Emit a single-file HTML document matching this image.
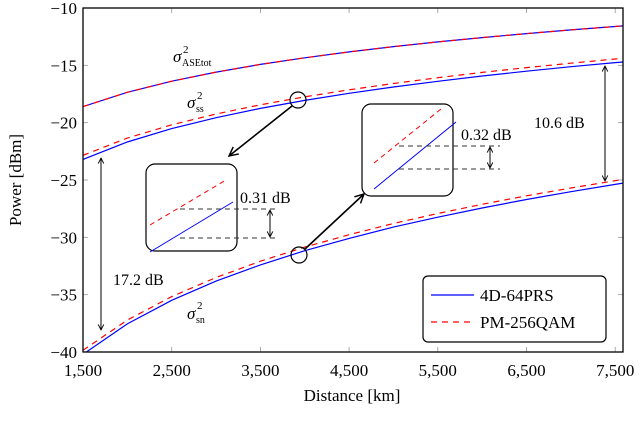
<!DOCTYPE html>
<html><head><meta charset="utf-8"><style>
html,body{margin:0;padding:0;background:#fff;}
svg{display:block;font-family:"Liberation Serif",serif;}
</style></head><body>
<svg id="chart" width="640" height="429" viewBox="0 0 640 429" xmlns="http://www.w3.org/2000/svg">
<defs>
<marker id="ah" viewBox="0 0 10 10" refX="9" refY="5" markerWidth="7" markerHeight="7" orient="auto-start-reverse"><path d="M1,1 L9,5 L1,9" fill="none" stroke="#000" stroke-width="1.3"/></marker>
<clipPath id="plotclip"><rect x="83" y="8" width="540" height="344"/></clipPath>
</defs>
<g id="grid"></g>
<g id="series" clip-path="url(#plotclip)"></g>
<rect x="83" y="8" width="540" height="344" fill="none" stroke="#000" stroke-width="1.3"/>
<g id="ticklabels" font-size="17"></g>
<text x="352" y="401" font-size="17" text-anchor="middle">Distance [km]</text>
<text transform="translate(21,180) rotate(-90)" font-size="17" text-anchor="middle">Power [dBm]</text>
<text x="5" y="441" font-size="17">Fig. 2:  Noise power components vs. mission distance at the end of transmission of P</text>

<g><text x="173" y="62" font-size="17" font-style="italic">σ</text><text x="183" y="53" font-size="11">2</text><text x="182" y="66" font-size="10">ASEtot</text></g>
<g><text x="187" y="108" font-size="17" font-style="italic">σ</text><text x="197" y="99" font-size="11">2</text><text x="196" y="112" font-size="10">ss</text></g>
<g><text x="187" y="319" font-size="17" font-style="italic">σ</text><text x="197" y="309" font-size="11">2</text><text x="196" y="323" font-size="10">sn</text></g>

<g>
<rect x="146" y="164" width="91" height="87" rx="9" fill="#fff" stroke="#000" stroke-width="1.2"/>
<line x1="150" y1="225" x2="226" y2="180" stroke="#f00" stroke-width="1" stroke-dasharray="5,4"/>
<line x1="150" y1="252" x2="233" y2="202" stroke="#00f" stroke-width="1"/>
<line x1="180" y1="209" x2="278" y2="209" stroke="#333" stroke-dasharray="5,4"/>
<line x1="180" y1="238" x2="278" y2="238" stroke="#333" stroke-dasharray="5,4"/>
<line x1="270" y1="210" x2="270" y2="237" stroke="#000" marker-start="url(#ah)" marker-end="url(#ah)"/>
<text x="240" y="203" font-size="16">0.31 dB</text>
</g>
<g>
<rect x="362" y="104" width="91" height="92" rx="9" fill="#fff" stroke="#000" stroke-width="1.2"/>
<line x1="374" y1="163" x2="441" y2="109" stroke="#f00" stroke-width="1" stroke-dasharray="5,4"/>
<line x1="374" y1="189" x2="456" y2="122" stroke="#00f" stroke-width="1"/>
<line x1="399" y1="146" x2="500" y2="146" stroke="#333" stroke-dasharray="5,4"/>
<line x1="399" y1="169" x2="500" y2="169" stroke="#333" stroke-dasharray="5,4"/>
<line x1="490" y1="147" x2="490" y2="168" stroke="#000" marker-start="url(#ah)" marker-end="url(#ah)"/>
<text x="461" y="140" font-size="16">0.32 dB</text>
</g>
<g>
<ellipse cx="298" cy="100" rx="8" ry="8" fill="none" stroke="#000" stroke-width="1.2"/>
<line x1="292" y1="106" x2="229" y2="156" stroke="#000" stroke-width="1.6" marker-end="url(#ah)"/>
<ellipse cx="299" cy="255" rx="8" ry="8" fill="none" stroke="#000" stroke-width="1.2"/>
<line x1="305" y1="249" x2="364" y2="194" stroke="#000" stroke-width="1.6" marker-end="url(#ah)"/>
<line x1="101" y1="158" x2="101" y2="330" stroke="#000" marker-start="url(#ah)" marker-end="url(#ah)"/>
<text x="113" y="285" font-size="16">17.2 dB</text>
<line x1="605" y1="66" x2="605" y2="181" stroke="#000" marker-start="url(#ah)" marker-end="url(#ah)"/>
<text x="534" y="128" font-size="16">10.6 dB</text>
</g>
<g>
<rect x="423" y="276" width="183" height="66" rx="5" fill="#fff" stroke="#000" stroke-width="1.2"/>
<line x1="431" y1="295" x2="474" y2="295" stroke="#00f" stroke-width="1.2"/>
<text x="480" y="301" font-size="17">4D-64PRS</text>
<line x1="431" y1="322" x2="474" y2="322" stroke="#f00" stroke-width="1.2" stroke-dasharray="6,5"/>
<text x="480" y="328" font-size="17">PM-256QAM</text>
</g>
<script>
const distances=[1500,2000,2500,3000,3500,4000,4500,5000,5500,6000,6500,7000,7500,7600];
const aseBlue=[-18.6,-17.35,-16.38,-15.59,-14.92,-14.34,-13.83,-13.37,-12.96,-12.58,-12.23,-11.91,-11.61,-11.55];
const aseRed=[-18.6,-17.35,-16.38,-15.59,-14.92,-14.34,-13.83,-13.37,-12.96,-12.58,-12.23,-11.91,-11.61,-11.55];
const ssBlue=[-23.2,-21.69,-20.52,-19.57,-18.76,-18.06,-17.44,-16.89,-16.39,-15.93,-15.51,-15.12,-14.76,-14.7];
const ssRed=[-22.85,-21.35,-20.19,-19.24,-18.44,-17.74,-17.13,-16.58,-16.08,-15.62,-15.2,-14.81,-14.45,-14.39];
const snBlue=[-40.2,-37.55,-35.49,-33.82,-32.4,-31.17,-30.09,-29.11,-28.24,-27.44,-26.7,-26.02,-25.38,-25.25];
const snRed=[-39.85,-37.22,-35.17,-33.5,-32.08,-30.85,-29.77,-28.79,-27.92,-27.12,-26.38,-25.7,-25.06,-24.93];
const xTicks=[1500,2500,3500,4500,5500,6500,7500];
const xTickLabels=["1,500","2,500","3,500","4,500","5,500","6,500","7,500"];
const yTicks=[-40,-35,-30,-25,-20,-15,-10];
const yTickLabels=["−40","−35","−30","−25","−20","−15","−10"];
const NS="http://www.w3.org/2000/svg";
function xs(v){return 83+(v-1500)*0.0887;}
function ys(v){return 8+(-10-v)*(344/30);}
const g=document.getElementById('grid'),tl=document.getElementById('ticklabels'),sg=document.getElementById('series');
xTicks.forEach((t,i)=>{
  [[352,347],[8,13]].forEach(p=>{const l=document.createElementNS(NS,'line');
  l.setAttribute('x1',xs(t));l.setAttribute('x2',xs(t));l.setAttribute('y1',p[0]);l.setAttribute('y2',p[1]);
  l.setAttribute('stroke','#999');l.setAttribute('stroke-width','0.8');
  
  
  g.appendChild(l);});
  const tx=document.createElementNS(NS,'text');tx.setAttribute('x',xs(t));tx.setAttribute('y',376);tx.setAttribute('text-anchor','middle');tx.textContent=xTickLabels[i];
  
  
  tl.appendChild(tx);
});
yTicks.forEach((t,i)=>{
  [[83,88],[623,618]].forEach(p=>{const l=document.createElementNS(NS,'line');
  l.setAttribute('x1',p[0]);l.setAttribute('x2',p[1]);l.setAttribute('y1',ys(t));l.setAttribute('y2',ys(t));
  l.setAttribute('stroke','#999');l.setAttribute('stroke-width','0.8');
  
  
  g.appendChild(l);});
  const tx=document.createElementNS(NS,'text');tx.setAttribute('x',77);tx.setAttribute('y',ys(t)+6);tx.setAttribute('text-anchor','end');tx.textContent=yTickLabels[i];
  
  
  tl.appendChild(tx);
});
function draw(vals,color,dash,name){
  const p=document.createElementNS(NS,'polyline');
  p.setAttribute('points',vals.map((v,i)=>xs(distances[i]).toFixed(1)+','+ys(v).toFixed(1)).join(' '));
  p.setAttribute('fill','none');p.setAttribute('stroke',color);p.setAttribute('stroke-width','1.2');
  if(dash)p.setAttribute('stroke-dasharray','6,5');
  
  
  sg.appendChild(p);
}
draw(aseBlue,'#00f',false,'ase-4d-64prs-line');
draw(aseRed,'#f00',true,'ase-pm-256qam-line');
draw(ssBlue,'#00f',false,'ss-4d-64prs-line');
draw(ssRed,'#f00',true,'ss-pm-256qam-line');
draw(snBlue,'#00f',false,'sn-4d-64prs-line');
draw(snRed,'#f00',true,'sn-pm-256qam-line');
</script>
</svg>
</body></html>
